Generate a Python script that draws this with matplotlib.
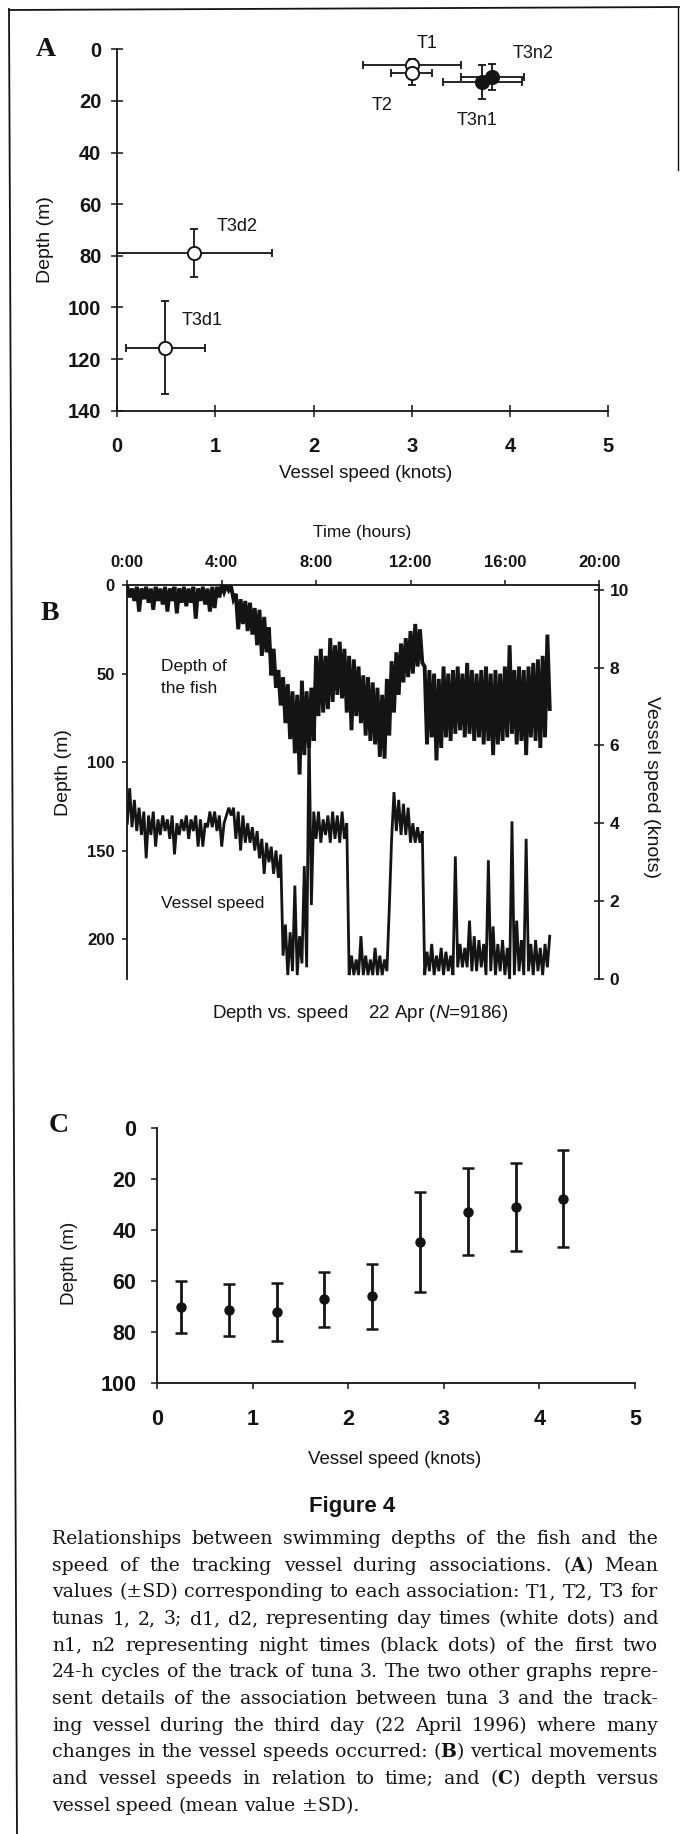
import numpy as np
import matplotlib
matplotlib.use('Agg')
import matplotlib.pyplot as plt
from matplotlib.lines import Line2D

# ---------------- data ----------------
# Panel A: mean (+-SD) per association
A_labels = ['T1', 'T2', 'T3n1', 'T3n2', 'T3d2', 'T3d1']
A_speed = [3.00, 3.00, 3.72, 3.82, 0.78, 0.49]
A_speed_sd = [0.50, 0.21, 0.40, 0.32, 0.80, 0.40]
A_depth = [6.2, 9.3, 12.7, 10.7, 79.1, 115.6]
A_depth_sd = [2.3, 4.6, 6.6, 5.0, 9.3, 18.0]
A_night = [False, False, True, True, False, False]
A_label_xy = [(3.16, -2.3), (2.70, 21.6), (3.67, 27.4), (4.24, 1.5), (1.22, 68.8), (0.86, 104.9)]

# Panel B: time series (every 0.2 h: shallow/low value, then deep/high value 0.1 h later)
B_hours = np.arange(0, 17.9, 0.2)
B_depth_shallow = [1, 2, 1, 2, 1, 2, 1, 2, 1, 2,
                   1, 2, 1, 2, 1, 2, 1, 2, 1, 1,
                   0, 0, 1, 5, 8, 9, 10, 13, 14, 18,
                   24, 36, 48, 52, 56, 60, 62, 54, 60, 58,
                   40, 36, 40, 30, 34, 32, 36, 40, 42, 46,
                   51, 52, 55, 58, 62, 53, 43, 38, 33, 30,
                   26, 22, 25, 46, 48, 50, 53, 46, 50, 48,
                   46, 50, 44, 48, 50, 48, 46, 50, 48, 50,
                   46, 34, 48, 46, 48, 46, 44, 42, 40, 28]
B_depth_deep = [7, 9, 15, 8, 10, 14, 9, 11, 15, 9,
                16, 10, 12, 10, 19, 9, 11, 15, 13, 7,
                4, 3, 8, 25, 22, 26, 28, 34, 40, 38,
                51, 58, 68, 78, 87, 95, 107, 96, 92, 88,
                74, 72, 70, 66, 62, 64, 72, 82, 74, 78,
                85, 88, 90, 97, 98, 85, 72, 62, 55, 52,
                50, 46, 44, 90, 86, 99, 92, 86, 88, 84,
                82, 86, 84, 88, 86, 90, 88, 96, 90, 88,
                86, 84, 90, 88, 96, 86, 88, 92, 86, 70]
B_speed_low = [4.0, 3.9, 3.8, 3.7, 3.1, 3.7, 3.4, 3.7, 3.8, 3.6,
               3.2, 3.7, 3.8, 3.6, 3.8, 3.4, 3.4, 3.9, 3.9, 3.8,
               3.4, 4.2, 4.2, 3.6, 3.3, 3.5, 3.5, 3.3, 3.1, 2.7,
               3.0, 2.7, 2.6, 0.6, 0.1, 0.2, 0.1, 0.4, 0.3, 1.9,
               3.6, 3.5, 3.7, 3.5, 3.6, 3.5, 3.6, 0.1, 0.1, 0.1,
               0.1, 0.1, 0.1, 0.1, 0.1, 0.2, 3.6, 3.8, 3.7, 3.7,
               3.5, 3.5, 3.5, 0.1, 0.2, 0.1, 0.2, 0.1, 0.2, 0.1,
               0.3, 0.3, 0.3, 0.2, 0.2, 0.3, 0.1, 0.2, 0.1, 0.2,
               0.1, 0.0, 0.1, 0.2, 0.1, 0.2, 0.1, 0.2, 0.1, 0.3]
B_speed_high = [4.9, 4.6, 4.4, 4.3, 4.2, 4.3, 4.1, 4.2, 4.1, 4.2,
                4.0, 4.1, 4.2, 4.1, 4.2, 4.1, 4.0, 4.3, 4.3, 4.2,
                4.0, 4.4, 4.4, 4.3, 4.2, 4.0, 3.9, 3.8, 3.6, 3.5,
                3.4, 3.3, 3.2, 1.4, 1.2, 2.4, 1.1, 2.9, 6.5, 4.3,
                4.3, 4.1, 4.2, 4.3, 4.2, 4.3, 4.0, 0.6, 0.5, 1.1,
                0.6, 0.5, 0.8, 0.6, 0.5, 1.8, 4.8, 4.6, 4.5, 4.4,
                4.0, 3.9, 3.8, 0.7, 0.9, 0.6, 0.8, 0.7, 0.6, 3.15,
                0.9, 0.8, 1.5, 1.1, 1.0, 0.9, 3.05, 1.35, 0.9, 1.0,
                0.8, 4.05, 1.5, 1.0, 3.6, 0.9, 1.0, 0.8, 0.9, 1.1]
B_time_ticks = ['0:00', '4:00', '8:00', '12:00', '16:00', '20:00']

# Panel C: depth (mean +-SD) per vessel-speed class
C_speed = [0.25, 0.75, 1.25, 1.75, 2.25, 2.75, 3.25, 3.75, 4.25]
C_depth = [70.3, 71.4, 72.4, 67.2, 66.0, 44.6, 32.8, 31.0, 27.6]
C_depth_sd = [10.2, 10.1, 11.4, 10.9, 12.7, 19.6, 17.1, 17.2, 19.2]

caption_lines = [
    "Relationships between swimming depths of the fish and the",
    r"speed of the tracking vessel during associations. ($\mathbf{A}$) Mean",
    "values (\u00b1SD) corresponding to each association: T1, T2, T3 for",
    "tunas 1, 2, 3; d1, d2, representing day times (white dots) and",
    "n1, n2 representing night times (black dots) of the first two",
    "24-h cycles of the track of tuna 3. The two other graphs repre-",
    "sent details of the association between tuna 3 and the track-",
    "ing vessel during the third day (22 April 1996) where many",
    r"changes in the vessel speeds occurred: ($\mathbf{B}$) vertical movements",
    r"and vessel speeds in relation to time; and ($\mathbf{C}$) depth versus",
    "vessel speed (mean value \u00b1SD).",
]

# ---------------- style ----------------
W, H = 681, 1834
plt.rcParams['font.family'] = ['Liberation Sans', 'DejaVu Sans']
plt.rcParams['mathtext.fontset'] = 'custom'
plt.rcParams['mathtext.bf'] = 'DejaVu Serif:bold'
plt.rcParams['mathtext.rm'] = 'DejaVu Serif'
plt.rcParams['mathtext.it'] = 'Liberation Sans:italic'
INK = '#141414'

fig = plt.figure(figsize=(W / 100, H / 100), dpi=100)


def box(x0, y0, x1, y1):
    return [x0 / W, 1 - y1 / H, (x1 - x0) / W, (y1 - y0) / H]


def fx(x):
    return x / W


def fy(y):
    return 1 - y / H


def ftext(x, y, s, **kw):
    kw.setdefault('ha', 'center')
    kw.setdefault('va', 'center')
    kw.setdefault('color', INK)
    return fig.text(fx(x), fy(y), s, **kw)


def style_spines(ax, visible, lw=1.3):
    for k, sp in ax.spines.items():
        sp.set_visible(k in visible)
        sp.set_linewidth(lw)
        sp.set_color(INK)


def bold_ticks(ax):
    for lab in ax.get_xticklabels() + ax.get_yticklabels():
        lab.set_fontweight('bold')


# ---------------- Panel A ----------------
axA = fig.add_axes(box(117.3, 49.3, 608, 410.7))
axA.set_xlim(0, 5)
axA.set_ylim(140, 0)
style_spines(axA, ['left', 'bottom'])
axA.set_xticks(range(6))
axA.set_yticks(range(0, 141, 20))
axA.tick_params(direction='inout', length=8, width=1.1, colors=INK, labelsize=14.5)
axA.tick_params(axis='x', pad=15)
axA.tick_params(axis='y', pad=7.5)
bold_ticks(axA)
for i in range(len(A_labels)):
    axA.errorbar(A_speed[i], A_depth[i], xerr=A_speed_sd[i], yerr=A_depth_sd[i],
                 fmt='none', ecolor=INK, elinewidth=1.3, capsize=3, capthick=1.3, zorder=2)
for i in range(len(A_labels)):
    axA.plot(A_speed[i], A_depth[i], 'o', ms=9.5, mec=INK, mew=1.4,
             mfc=INK if A_night[i] else 'white', zorder=3 + i, clip_on=False)
    axA.text(A_label_xy[i][0], A_label_xy[i][1], A_labels[i], fontsize=13,
             ha='center', va='center', color=INK, clip_on=False)
ftext(45.6, 49, 'A', fontsize=20, fontweight='bold', family='Liberation Serif')
ftext(365.7, 474, 'Vessel speed (knots)', fontsize=13.5)
ftext(45.6, 240, 'Depth (m)', fontsize=14, rotation=90)

# ---------------- Panel B ----------------
axB = fig.add_axes(box(127.3, 585, 599.3, 979))
axB.set_xlim(0, 20)
axB.set_ylim(222.4, 0)
style_spines(axB, ['left', 'top'])
axB.xaxis.tick_top()
axB.set_xticks(range(0, 21, 4))
axB.set_xticklabels(B_time_ticks)
axB.set_yticks(range(0, 201, 50))
axB.tick_params(direction='out', length=3.5, width=1.1, colors=INK, labelsize=12)
axB.tick_params(axis='x', pad=7)
axB.tick_params(axis='y', pad=5.5)
bold_ticks(axB)

axB2 = axB.twinx()
axB2.set_ylim(0, 10.12)
style_spines(axB2, ['right'])
axB2.set_yticks(range(0, 11, 2))
axB2.tick_params(direction='inout', length=7, width=1.1, colors=INK, labelsize=12.5, pad=4)
bold_ticks(axB2)

n = len(B_hours)
tz = np.empty(2 * n)
tz[0::2] = B_hours
tz[1::2] = B_hours + 0.1
dz = np.empty(2 * n)
dz[0::2] = B_depth_shallow
dz[1::2] = B_depth_deep
sz = np.empty(2 * n)
sz[0::2] = B_speed_low
sz[1::2] = B_speed_high
axB.plot(tz, dz, color=INK, lw=2.8, solid_joinstyle='miter')
axB2.plot(tz, sz, color=INK, lw=2.0, solid_joinstyle='miter')

ftext(50, 613, 'B', fontsize=20, fontweight='bold', family='Liberation Serif')
ftext(362.6, 533, 'Time (hours)', fontsize=12.5)
ftext(63, 773, 'Depth (m)', fontsize=14, rotation=90)
ftext(651.5, 787, 'Vessel speed (knots)', fontsize=14, rotation=-90)
ftext(160.7, 666.7, 'Depth of', fontsize=12.5, ha='left')
ftext(160.7, 688.3, 'the fish', fontsize=12.5, ha='left')
ftext(160.7, 903.3, 'Vessel speed', fontsize=12.5, ha='left')
ftext(360.5, 1013.3, r'Depth vs. speed    22 Apr ($N$=9186)', fontsize=13.5)

# ---------------- Panel C ----------------
axC = fig.add_axes(box(157.2, 1128.3, 635, 1382.7))
axC.set_xlim(0, 5)
axC.set_ylim(100, 0)
style_spines(axC, ['left', 'bottom'])
axC.set_xticks(range(6))
axC.set_yticks(range(0, 101, 20))
axC.tick_params(direction='out', length=4, width=1.1, colors=INK, labelsize=15.5)
axC.tick_params(axis='x', pad=15)
axC.tick_params(axis='y', pad=11)
bold_ticks(axC)
axC.errorbar(C_speed, C_depth, yerr=C_depth_sd, fmt='o', color=INK, ms=6.5,
             elinewidth=2.0, capsize=4.5, capthick=1.8, clip_on=False)
ftext(58.6, 1126, 'C', fontsize=20, fontweight='bold', family='Liberation Serif')
ftext(395, 1459, 'Vessel speed (knots)', fontsize=13.5)
ftext(69.5, 1263, 'Depth (m)', fontsize=13.5, rotation=90)

ftext(352.5, 1506.7, 'Figure 4', fontsize=16, fontweight='bold')

# ---------------- frame lines ----------------
fig.add_artist(Line2D([fx(9), fx(17)], [fy(9), fy(1834)], color=INK, lw=1.3))
fig.add_artist(Line2D([fx(9), fx(679)], [fy(10), fy(7)], color=INK, lw=1.3))
fig.add_artist(Line2D([fx(678), fx(678)], [fy(8), fy(170)], color=INK, lw=1.0))

# ---------------- justified caption ----------------
renderer = fig.canvas.get_renderer()
CAP_LEFT, CAP_RIGHT = 52.0, 658.0
CAP_W = CAP_RIGHT - CAP_LEFT
CAP_FAMILY = 'DejaVu Serif'


def word_widths(fs):
    out = []
    for line in caption_lines:
        ws = []
        for w in line.split(' '):
            t = fig.text(0, 0, w, fontsize=fs, family=CAP_FAMILY)
            ws.append(t.get_window_extent(renderer).width)
            t.remove()
        out.append(ws)
    return out


cap_fs = 13.6
space_em = 0.318
for _ in range(4):
    widths = word_widths(cap_fs)
    sp = space_em * cap_fs * 100 / 72
    natural = max(sum(ws) + sp * (len(ws) - 1) for ws in widths)
    if natural <= CAP_W:
        break
    cap_fs *= CAP_W / natural * 0.995
widths = word_widths(cap_fs)
sp = space_em * cap_fs * 100 / 72
for i, line in enumerate(caption_lines):
    words = line.split(' ')
    ws = widths[i]
    base = 1544 + 26.67 * i
    if i < len(caption_lines) - 1 and len(words) > 1:
        gap = (CAP_W - sum(ws)) / (len(words) - 1)
    else:
        gap = sp
    x = CAP_LEFT
    for w, wd in zip(words, ws):
        fig.text(fx(x), fy(base), w, fontsize=cap_fs, family=CAP_FAMILY,
                 ha='left', va='baseline', color=INK)
        x += wd + gap

fig.savefig('out.png', dpi=100, facecolor='white')
